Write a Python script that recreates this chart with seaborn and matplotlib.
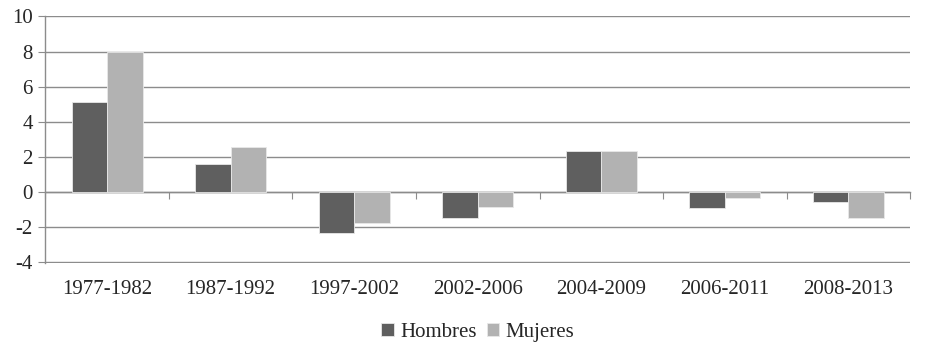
import pandas as pd
import numpy as np
import matplotlib.pyplot as plt
import seaborn as sns

# Values
periodos = ['1977-1982', '1987-1992', '1997-2002', '2002-2006',
            '2004-2009', '2006-2011', '2008-2013']
hombres = [5.15, 1.6, -2.35, -1.45, 2.35, -0.9, -0.57]
mujeres = [8.0, 2.55, -1.77, -0.83, 2.35, -0.35, -1.45]
series = ['Hombres', 'Mujeres']
colores = ['#5f5f5f', '#b2b2b2']
yticks = [-4, -2, 0, 2, 4, 6, 8, 10]

df = pd.DataFrame({'Periodo': periodos * 2,
                   'Valor': hombres + mujeres,
                   'Sexo': ['Hombres'] * len(periodos) + ['Mujeres'] * len(periodos)})

sns.set_style('white')
plt.rcParams['font.family'] = ['Liberation Serif', 'DejaVu Serif']
plt.rcParams['axes.unicode_minus'] = False

fig, ax = plt.subplots(figsize=(9.25, 3.54), dpi=100)
fig.subplots_adjust(left=0.049, right=0.984, top=0.955, bottom=0.257)

sns.barplot(data=df, x='Periodo', y='Valor', hue='Sexo', hue_order=series,
            palette=colores, width=0.575, edgecolor='#e8e8e8', linewidth=0.6,
            ax=ax, zorder=3)

ymin, ymax = -4.03, 10.03
ax.set_xlim(-0.5, len(periodos) - 0.5)
ax.set_ylim(ymin, ymax)
ax.set_yticks(yticks)
ax.yaxis.grid(True, color='#8c8c8c', linewidth=1.0, zorder=0)
ax.set_axisbelow(True)
ax.set_xlabel('')
ax.set_ylabel('')

for s in ['top', 'right', 'bottom']:
    ax.spines[s].set_visible(False)
ax.spines['left'].set_color('#8c8c8c')
ax.spines['left'].set_linewidth(1.0)

ax.tick_params(axis='y', left=True, length=5, color='#8c8c8c', labelsize=15,
               labelcolor='#262626', pad=4)
ax.tick_params(axis='x', bottom=False, labelsize=15, labelcolor='#262626', pad=9)

# zero line with category separators
sec = ax.secondary_xaxis((0 - ymin) / (ymax - ymin))
sec.set_xticks(np.arange(len(periodos) + 1) - 0.5)
sec.set_xticklabels([])
sec.spines['bottom'].set_color('#8c8c8c')
sec.spines['bottom'].set_linewidth(1.0)
sec.tick_params(axis='x', length=5, color='#8c8c8c', direction='out')

ax.legend(loc='upper center', bbox_to_anchor=(0.5, -0.165), ncol=2, frameon=False,
          fontsize=15, handlelength=0.6, handleheight=0.6, handletextpad=0.3,
          columnspacing=0.5, labelcolor='#262626')

plt.savefig('out.png', dpi=100)
